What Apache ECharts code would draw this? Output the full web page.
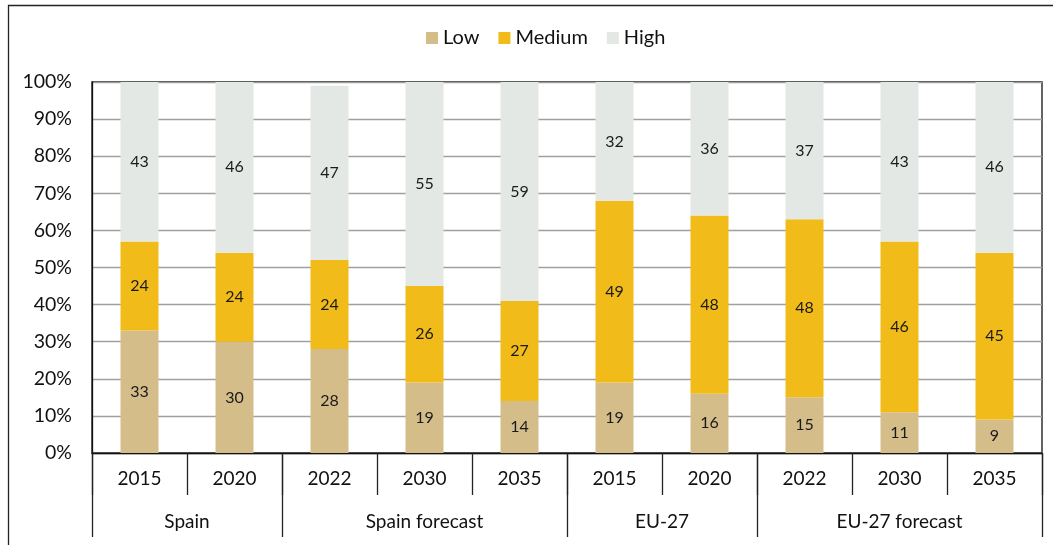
<!DOCTYPE html>
<html>
<head>
<meta charset="utf-8">
<script src="https://cdn.jsdelivr.net/npm/echarts@6/dist/echarts.min.js"></script>
<style>
  html, body { margin: 0; padding: 0; background: #fff; }
  #chart { width: 1058px; height: 545px; }
</style>
</head>
<body>
<div id="chart"></div>
<script>
// Share of each level (%) per year, grouped by region / scenario
const years = ['2015', '2020', '2022', '2030', '2035', '2015', '2020', '2022', '2030', '2035'];
const groups = ['Spain', 'Spain forecast', 'EU-27', 'EU-27 forecast'];
const groupSizes = [2, 3, 2, 3];
const low = [33, 30, 28, 19, 14, 19, 16, 15, 11, 9];
const medium = [24, 24, 24, 26, 27, 49, 48, 48, 46, 45];
const high = [43, 46, 47, 55, 59, 32, 36, 37, 43, 46];

const FONT = 'Lato, "Open Sans", sans-serif';

// Group boundaries and centres on a 0..N value scale aligned with the categories
const bounds = [0];
groupSizes.forEach(s => bounds.push(bounds[bounds.length - 1] + s));
const centres = groups.map((g, i) => (bounds[i] + bounds[i + 1]) / 2);

const chart = echarts.init(document.getElementById('chart'), null, { renderer: 'canvas' });

function barSeries(name, data, color) {
  return {
    name, type: 'bar', stack: 'total', data,
    barWidth: '40%',
    itemStyle: { color },
    label: {
      show: true, position: 'inside',
      color: '#1a1a1a', fontFamily: FONT, fontSize: 16
    },
    emphasis: { disabled: true }
  };
}

chart.setOption({
  animation: false,
  textStyle: { fontFamily: FONT },
  legend: {
    top: 23, left: 421,
    itemWidth: 12, itemHeight: 12, itemGap: 19,
    icon: 'rect',
    textStyle: { fontSize: 20, color: '#111', fontFamily: FONT },
    data: ['Low', 'Medium', 'High']
  },
  grid: {
    left: 92, right: 16, top: 82, bottom: 92,
    show: true, borderColor: '#111', borderWidth: 1.3, backgroundColor: 'transparent'
  },
  xAxis: [
    {
      type: 'category', data: years, position: 'bottom',
      axisLine: { lineStyle: { color: '#111', width: 1.3 } },
      axisTick: { show: true, interval: 0, length: 42, lineStyle: { color: '#222', width: 1.3 } },
      axisLabel: { interval: 0, margin: 16, fontSize: 19, color: '#111', fontFamily: FONT }
    },
    {
      type: 'value', position: 'bottom', min: 0, max: bounds[bounds.length - 1],
      axisLine: { show: false },
      splitLine: { show: false },
      axisTick: { show: true, customValues: bounds, length: 84, lineStyle: { color: '#222', width: 1.3 } },
      axisLabel: {
        customValues: centres, margin: 59, fontSize: 19, color: '#111', fontFamily: FONT,
        formatter: v => groups[centres.indexOf(v)] || ''
      }
    }
  ],
  yAxis: {
    type: 'value', min: 0, max: 100, interval: 10,
    axisLine: { show: true, lineStyle: { color: '#111', width: 1.3 } },
    axisTick: { show: false },
    splitLine: { lineStyle: { color: '#a0a0a0', width: 1.3 } },
    axisLabel: { formatter: '{value}%', fontSize: 19.5, color: '#111', margin: 20, fontFamily: FONT }
  },
  series: [
    barSeries('Low', low, '#D5BD8A'),
    barSeries('Medium', medium, '#F1BC1A'),
    barSeries('High', high, '#E4E8E5')
  ],
  graphic: [
    {
      type: 'polyline', silent: true,
      shape: { points: [[8.5, 545], [8.5, 5.5], [1053, 5.5]] },
      style: { stroke: '#222', lineWidth: 1.3, fill: null }
    }
  ]
});
</script>
</body>
</html>
